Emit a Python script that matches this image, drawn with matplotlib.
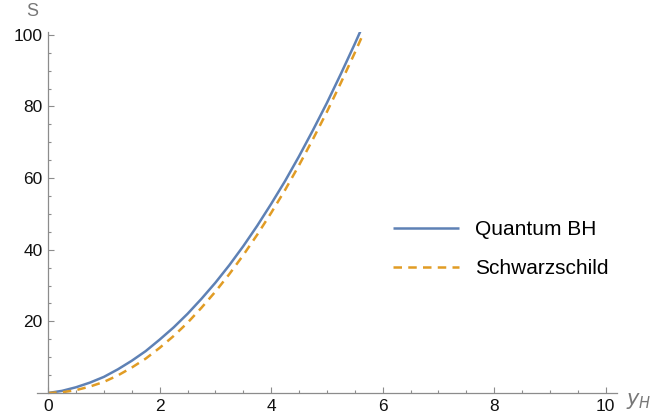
import matplotlib.pyplot as plt
from matplotlib.ticker import MultipleLocator

plt.rcParams['font.family'] = ['Liberation Sans', 'DejaVu Sans']

# horizon radius samples
y_h = [0, 0.25, 0.5, 0.75, 1, 1.25, 1.5, 1.75, 2, 2.25, 2.5, 2.75, 3, 3.25,
       3.5, 3.75, 4, 4.25, 4.5, 4.75, 5, 5.25, 5.5, 5.6, 5.65]

# entropy of the quantum-corrected black hole
s_quantum = [0, 0.6, 1.6, 2.9, 4.5, 6.6, 9.0, 11.7, 14.9, 18.3, 22.1, 26.3,
             30.8, 35.7, 41.0, 46.7, 52.8, 59.2, 66.1, 73.4, 81.0, 89.1,
             97.5, 101.0, 102.8]

# classical Schwarzschild entropy
s_schw = [0, 0.2, 0.8, 1.8, 3.1, 4.9, 7.1, 9.6, 12.6, 15.9, 19.6, 23.8,
          28.3, 33.2, 38.5, 44.2, 50.3, 56.7, 63.6, 70.9, 78.5, 86.6,
          95.0, 98.5, 100.3]

axis_gray = '#8c8c8c'

fig = plt.figure(figsize=(6.65, 4.2), dpi=100)
ax = fig.add_axes([0.0556, 0.0643, 0.872, 0.8595])

ax.plot(y_h, s_quantum, color='#5E81B5', lw=1.8, label='Quantum BH',
        solid_capstyle='butt')
ax.plot(y_h, s_schw, color='#E19C24', lw=1.8, dashes=(3.4, 2.5),
        label='Schwarzschild')

ax.set_xlim(-0.2, 10.2)
ax.set_ylim(0, 100.8)

for side in ('top', 'right'):
    ax.spines[side].set_visible(False)
ax.spines['left'].set_position(('data', 0))
ax.spines['bottom'].set_position(('data', 0))
for side in ('left', 'bottom'):
    ax.spines[side].set_color(axis_gray)
    ax.spines[side].set_linewidth(0.9)

ax.xaxis.set_major_locator(MultipleLocator(2))
ax.xaxis.set_minor_locator(MultipleLocator(0.5))
ax.yaxis.set_major_locator(MultipleLocator(20))
ax.yaxis.set_minor_locator(MultipleLocator(5))
ax.set_yticks([20, 40, 60, 80, 100])
ax.tick_params(which='both', direction='in', color=axis_gray, width=0.8,
               labelsize=12.5, labelcolor='#111111')
ax.tick_params(which='major', length=4.5, pad=4)
ax.tick_params(which='minor', length=2.5)

fig.text(0.048, 0.972, 'S', color='#777777', fontsize=13, ha='center',
         va='center')
fig.text(0.96, 0.046, r'$y_H$', color='#777777', fontsize=15,
         ha='center', va='center')

ax.legend(loc='center left', bbox_to_anchor=(0.581, 0.399), frameon=False,
          fontsize=15, handlelength=3.2, handletextpad=0.75,
          labelspacing=0.95)

fig.savefig('out.png', dpi=100)
